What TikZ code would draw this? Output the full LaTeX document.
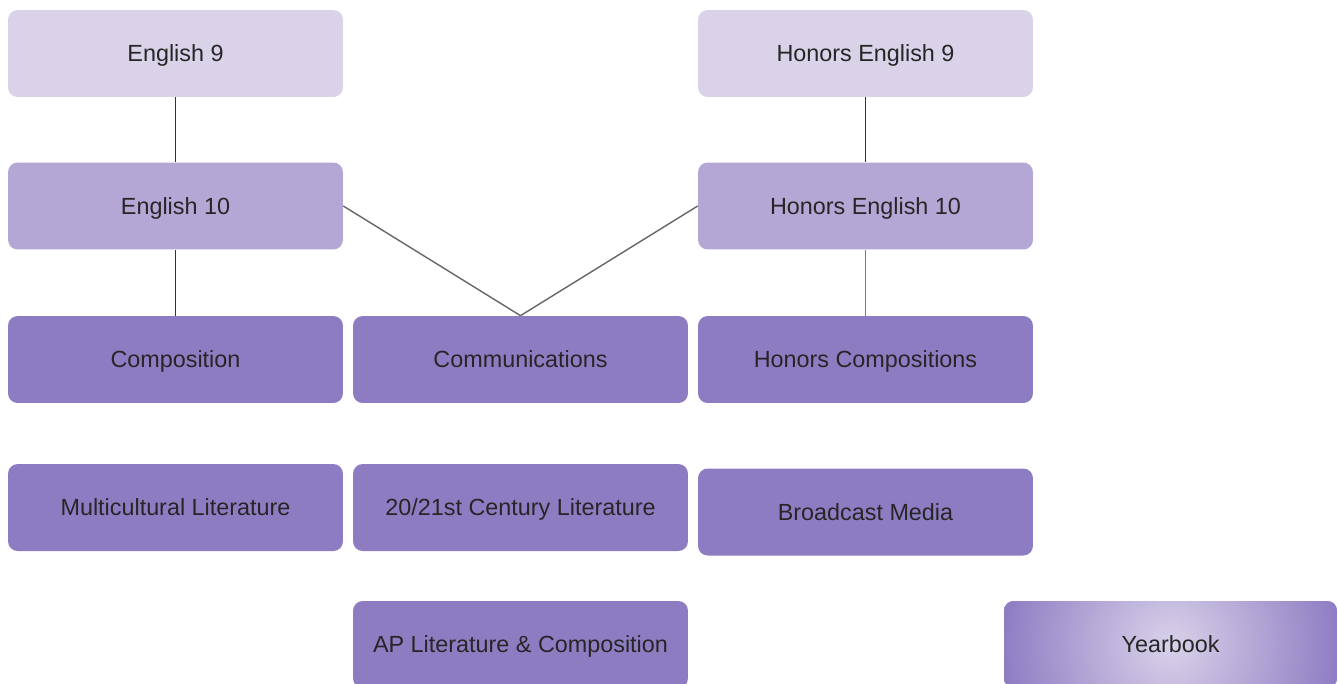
\documentclass[tikz,border=0pt]{standalone}
\usepackage{fontspec}
\setmainfont{Liberation Sans}
\usepackage{tikz}

\definecolor{lilac}{HTML}{D9D2E9}
\definecolor{lavender}{HTML}{B4A7D6}
\definecolor{violet}{HTML}{8E7CC3}

\begin{document}
\begin{tikzpicture}[x=0.02cm,y=-0.02cm,
	course/.style={rectangle,rounded corners=5.5pt,minimum width=6.7cm,minimum height=1.74cm,text height=9.5pt,text depth=0pt,text=black!85,font=\fontsize{13.3}{16}\selectfont},
	first node/.style={course,fill=lilac},
	second node/.style={course,fill=lavender},
	third node/.style={course,fill=violet},
	club node/.style={course,minimum width=6.66cm,fill=violet,path picture={\shade[inner color=lilac,outer color=violet] (path picture bounding box.center) circle (3.4cm);}},
	link/.style={line width=0.8pt,black!80}
]

	\useasboundingbox (0,0) rectangle (1338,683);

	\def \a {175.5};
	\def \b {520.5};
	\def \c {865.5};

	\node[first node] at (\a,53.5) (e9) {English 9};
	\node[second node] at (\a,206) (e10) {English 10};
	\node[third node] at (\a,359.5) (comp) {Composition};
	\node[third node] at (\a,507.5) (multi) {Multicultural Literature};

	\node[third node] at (\b,359.5) (comm) {Communications};
	\node[third node] at (\b,507.5) (lit) {20/21st Century Literature};
	\node[third node] at (\b,644.5) (ap) {AP Literature \& Composition};

	\node[first node] at (\c,53.5) (he9) {Honors English 9};
	\node[second node] at (\c,206) (he10) {Honors English 10};
	\node[third node] at (\c,359.5) (hcomp) {Honors Compositions};
	\node[third node] at (\c,512) (media) {Broadcast Media};

	\node[club node] at (1170.5,644.5) (year) {Yearbook};

	\draw[link] (e9) -- (e10);
	\draw[link] (e10) -- (comp);
	\draw[link] (he9) -- (he10);
	\draw[line width=0.8pt,violet!90!black] (he10) -- (hcomp);
	\draw[line width=0.8pt,black!60] (e10.east) -- (comm.north);
	\draw[line width=0.8pt,black!60] (he10.west) -- (comm.north);
\end{tikzpicture}
\end{document}
